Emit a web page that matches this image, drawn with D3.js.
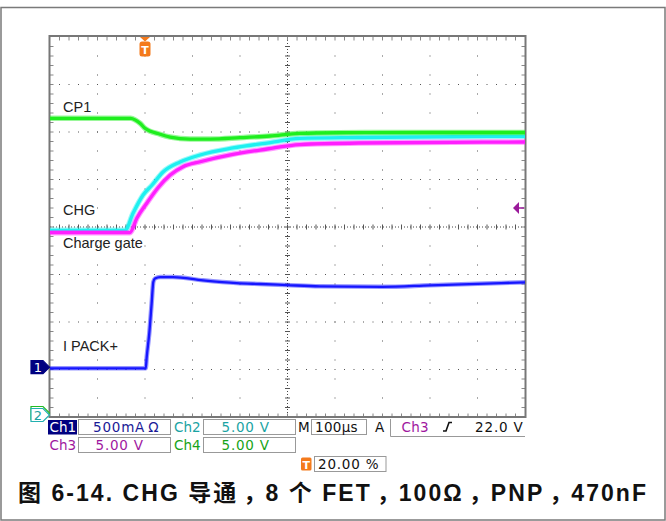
<!DOCTYPE html>
<html>
<head>
<meta charset="utf-8">
<script src="https://cdn.jsdelivr.net/npm/d3@7"></script>
<style>
  html, body { margin: 0; padding: 0; background: #fff; }
  svg { display: block; }
</style>
</head>
<body>
<script>
// scope settings
const timePerDiv = 100;          // µs/div
const triggerPct = 20;           // trigger position, % of record
const voltsPerDiv = 5;           // Ch2, Ch3, Ch4
const ampsPerDiv = 0.5;          // Ch1
const ch1Position = -2.95;       // Ch1 ground, divisions from centre
const triggerLevel = 22.0;       // V on Ch3

// traces: [time µs, value]
const cp1 = [[-200, 31.44], [-30, 31.44], [-20, 31.25], [-10, 30.9], [0, 30.39], [32, 29.76], [53, 29.47],
  [95, 29.26], [137, 29.26], [200, 29.40], [263, 29.58], [326, 29.86], [410, 29.92], [600, 29.95], [800, 29.95]];
const chg = [[-200, 19.65], [-42, 19.65], [-25, 21.47], [-4, 23.37], [15, 24.42], [38, 25.79], [74, 26.84],
  [116, 27.58], [185, 28.32], [257, 28.84], [326, 29.32], [450, 29.42], [800, 29.55]];
const chargeGate = [[-200, 19.40], [-32, 19.40], [-17, 20.95], [4, 22.53], [27, 24.11], [53, 25.47],
  [80, 26.35], [116, 26.87], [185, 27.65], [257, 28.21], [326, 28.68], [450, 28.84], [800, 28.95]];
const ipack = [[-200, -0.013], [1.5, -0.013], [3.6, 0.106], [9, 0.356], [14, 0.672], [17.5, 0.896],
  [21, 0.932], [32, 0.948], [59, 0.948], [122, 0.914], [193, 0.885], [242, 0.875], [298, 0.864],
  [368, 0.851], [500, 0.845], [600, 0.861], [700, 0.877], [800, 0.893]];

// readouts
const traceLabels = ['CP1', 'CHG', 'Charge gate', 'IPACK+'];
const captionParts = ['图 6-14. CHG 导通', '，', '8 个 FET', '，', '100Ω', '，', 'PNP', '，', '470nF'];

const W = 666, H = 521;
const x0 = 50, y0 = 37, divPx = 47.5;
const x1 = x0 + 10 * divPx, y1 = y0 + 8 * divPx;

const svg = d3.select('body').append('svg').attr('width', W).attr('height', H);
svg.append('rect').attr('width', W).attr('height', H).attr('fill', '#fff');

// outer frame
svg.append('rect').attr('x', 1).attr('y', 7.5).attr('width', 664).attr('height', 512.5)
  .attr('fill', 'none').attr('stroke', '#7a7a7a').attr('stroke-width', 1.5);

const tStart = -triggerPct / 100 * 10 * timePerDiv;
const x = d3.scaleLinear().domain([tStart, tStart + 10 * timePerDiv]).range([x0, x1]);
const yV = d3.scaleLinear().domain([0, 8 * voltsPerDiv]).range([y1, y0]);
const yA = d3.scaleLinear()
  .domain([(-4 - ch1Position) * ampsPerDiv, (4 - ch1Position) * ampsPerDiv]).range([y1, y0]);

// graticule
const grid = svg.append('g').attr('class', 'graticule');
const xc = (x0 + x1) / 2, yc = (y0 + y1) / 2;
const minor = divPx / 5;

d3.range(1, 10).forEach(k => {
  const gx = x0 + k * divPx;
  if (k === 5) return;
  d3.range(y0 + 2 * minor, y1, 2 * minor).forEach(py => {
    grid.append('rect').attr('x', gx - 0.5).attr('y', py - 0.5).attr('width', 1).attr('height', 1).attr('fill', '#555');
  });
});
d3.range(1, 8).forEach(k => {
  const gy = y0 + k * divPx;
  if (k === 4) return;
  d3.range(x0 + minor, x1, minor).forEach(px => {
    grid.append('rect').attr('x', px - 0.5).attr('y', gy - 0.5).attr('width', 1).attr('height', 1).attr('fill', '#555');
  });
});
// centre axes with ticks
grid.append('line').attr('x1', x0).attr('x2', x1).attr('y1', yc).attr('y2', yc)
  .attr('stroke', '#444').attr('stroke-dasharray', '1,2');
grid.append('line').attr('x1', xc).attr('x2', xc).attr('y1', y0).attr('y2', y1)
  .attr('stroke', '#444').attr('stroke-dasharray', '1,2');
d3.range(x0 + minor, x1, minor).forEach(px => {
  grid.append('line').attr('x1', px).attr('x2', px).attr('y1', yc - 2.5).attr('y2', yc + 2.5).attr('stroke', '#555');
  grid.append('line').attr('x1', px).attr('x2', px).attr('y1', y0).attr('y2', y0 + 3.5).attr('stroke', '#888');
  grid.append('line').attr('x1', px).attr('x2', px).attr('y1', y1 - 3.5).attr('y2', y1).attr('stroke', '#888');
});
d3.range(y0 + minor, y1, minor).forEach(py => {
  grid.append('line').attr('y1', py).attr('y2', py).attr('x1', xc - 2.5).attr('x2', xc + 2.5).attr('stroke', '#555');
  grid.append('line').attr('y1', py).attr('y2', py).attr('x1', x0).attr('x2', x0 + 3.5).attr('stroke', '#888');
  grid.append('line').attr('y1', py).attr('y2', py).attr('x1', x1 - 3.5).attr('x2', x1).attr('stroke', '#888');
});
svg.append('rect').attr('x', x0 - 0.5).attr('y', y0 - 1).attr('width', x1 - x0 + 1).attr('height', y1 - y0 + 1)
  .attr('fill', 'none').attr('stroke', '#777').attr('stroke-width', 2);

// traces
function drawTrace(data, yScale, color, wide) {
  const line = d3.line().x(d => x(d[0])).y(d => yScale(d[1])).curve(d3.curveMonotoneX);
  svg.append('path').attr('d', line(data)).attr('fill', 'none')
    .attr('stroke', color).attr('stroke-width', wide).attr('stroke-opacity', 0.45);
  svg.append('path').attr('d', line(data)).attr('fill', 'none')
    .attr('stroke', color).attr('stroke-width', wide - 2.2);
}
drawTrace(chg, yV, '#1ef0f0', 5.5);
drawTrace(chargeGate, yV, '#ff1eff', 5.5);
drawTrace(cp1, yV, '#1eee1e', 5.5);
drawTrace(ipack, yA, '#1616ff', 4.5);

// trace labels
const labelFont = "'Liberation Sans', Arial, sans-serif";
const labelY = [111.5, 214.5, 248, 351];
traceLabels.forEach((t, i) => {
  const tx = svg.append('text').attr('x', 63).attr('y', labelY[i])
    .attr('font-family', labelFont).attr('font-size', 14.5).attr('fill', '#222');
  if (t === 'IPACK+') {
    tx.append('tspan').text('I');
    tx.append('tspan').attr('dx', 4).text('PACK+');
  } else {
    tx.text(t);
  }
});

// trigger position marker
const tx0 = x(0);
svg.append('path').attr('d', `M${tx0 - 5},${y0} L${tx0 + 5},${y0} L${tx0},${y0 + 4.5} Z`).attr('fill', '#f47a1c');
svg.append('rect').attr('x', tx0 - 5.5).attr('y', y0 + 4.5).attr('width', 11).attr('height', 15).attr('rx', 2.5)
  .attr('fill', '#f47a1c');
svg.append('text').attr('x', tx0).attr('y', y0 + 17).attr('text-anchor', 'middle')
  .attr('font-family', "'DejaVu Sans', sans-serif").attr('font-weight', 'bold').attr('font-size', 11)
  .attr('fill', '#fff').text('T');

// trigger level marker (Ch3)
const ty = yV(triggerLevel);
svg.append('path').attr('d', `M${x1 - 12},${ty} L${x1 - 6},${ty - 6} L${x1 - 6},${ty + 6} Z`).attr('fill', '#9a1a9a');
svg.append('line').attr('x1', x1 - 7).attr('x2', x1 - 1).attr('y1', ty).attr('y2', ty)
  .attr('stroke', '#9a1a9a').attr('stroke-width', 1.5);

// ground markers
function groundMarker(gy, fill, stroke, label, color) {
  const p = `M31,${gy - 6.5} L43,${gy - 6.5} L49.5,${gy} L43,${gy + 6.5} L31,${gy + 6.5} Z`;
  svg.append('path').attr('d', p).attr('fill', fill).attr('stroke', stroke).attr('stroke-width', 1.2);
  if (label) {
    svg.append('text').attr('x', 38).attr('y', gy + 5).attr('text-anchor', 'middle')
      .attr('font-family', "'DejaVu Sans', sans-serif").attr('font-size', 13).attr('fill', color).text(label);
  }
}
groundMarker(yV(0) - 4, '#fff', '#22bb22', null, null);
groundMarker(yV(0) - 2, '#fff', '#22b0b0', '2', '#1aa0a0');
groundMarker(yA(0), '#000080', '#000080', '1', '#fff');

// status readout
const roFont = "'DejaVu Sans', Verdana, sans-serif";
function box(bx, by, bw, bh) {
  svg.append('rect').attr('x', bx).attr('y', by).attr('width', bw).attr('height', bh)
    .attr('fill', '#fff').attr('stroke', '#999').attr('stroke-width', 1);
}
function ro(tx, ty, text, color, spacing) {
  return svg.append('text').attr('x', tx).attr('y', ty).attr('font-family', roFont).attr('font-size', 13.5)
    .attr('letter-spacing', spacing || 0).attr('fill', color).text(text);
}
const r1 = 432, r2 = 450;
svg.append('rect').attr('x', 48).attr('y', 420).attr('width', 29).attr('height', 14.5).attr('fill', '#000080');
ro(49.5, r1, 'Ch1', '#fff');
box(78.5, 419.5, 92, 15);
const ch1Val = ro(93, r1, '500mA', '#1a1a96', 0.8);
ch1Val.append('tspan').attr('dx', 3).text('Ω');
ro(174, r1, 'Ch2', '#1aa3a3');
box(203.5, 419.5, 92, 15);
ro(221.5, r1, '5.00 V', '#1aa3a3', 0.8);
ro(298, r1, 'M', '#111');
box(311.5, 419.5, 55, 15);
ro(315, r1, '100µs', '#111', 0.3);
ro(375, r1, 'A', '#111');
svg.append('path').attr('d', `M390.5,419 V436.5 H${x1}`).attr('fill', 'none').attr('stroke', '#999');
ro(401.5, r1, 'Ch3', '#a0189f', 0.3);
svg.append('path').attr('d', 'M443,431 h3 l3,-8.5 h3').attr('fill', 'none').attr('stroke', '#111').attr('stroke-width', 1.6);
svg.append('text').attr('x', x1 - 1.5).attr('y', r1).attr('text-anchor', 'end').attr('font-family', roFont)
  .attr('font-size', 13.5).attr('letter-spacing', 0.8).attr('fill', '#111').text(triggerLevel.toFixed(1) + ' V');

ro(49.5, r2, 'Ch3', '#a0189f');
box(78.5, 437.5, 92, 15);
ro(95.5, r2, '5.00 V', '#a0189f', 0.8);
ro(174, r2, 'Ch4', '#17a317');
box(203.5, 437.5, 92, 15);
ro(221.5, r2, '5.00 V', '#17a317', 0.8);

svg.append('rect').attr('x', 301).attr('y', 457.5).attr('width', 10.5).attr('height', 13).attr('rx', 1.5).attr('fill', '#f47a1c');
svg.append('text').attr('x', 306.2).attr('y', 468.5).attr('text-anchor', 'middle').attr('font-family', roFont)
  .attr('font-weight', 'bold').attr('font-size', 11).attr('fill', '#fff').text('T');
box(314.5, 456.5, 71.5, 15);
ro(318, 468.5, triggerPct.toFixed(2) + ' %', '#111', 0.8);

// caption, stretched to the width it takes in the figure
const cap = svg.append('text').attr('x', 18).attr('y', 501)
  .attr('textLength', 628).attr('lengthAdjust', 'spacing')
  .attr('font-family', "'Liberation Sans', 'Noto Sans CJK SC', sans-serif")
  .attr('font-weight', 'bold').attr('font-size', 23).attr('fill', '#111');
captionParts.forEach((p, i) => {
  const s = cap.append('tspan').text(p);
  if (p === '，') s.attr('dx', 5);
  else if (i > 0) s.attr('dx', -3);
});
</script>
</body>
</html>
